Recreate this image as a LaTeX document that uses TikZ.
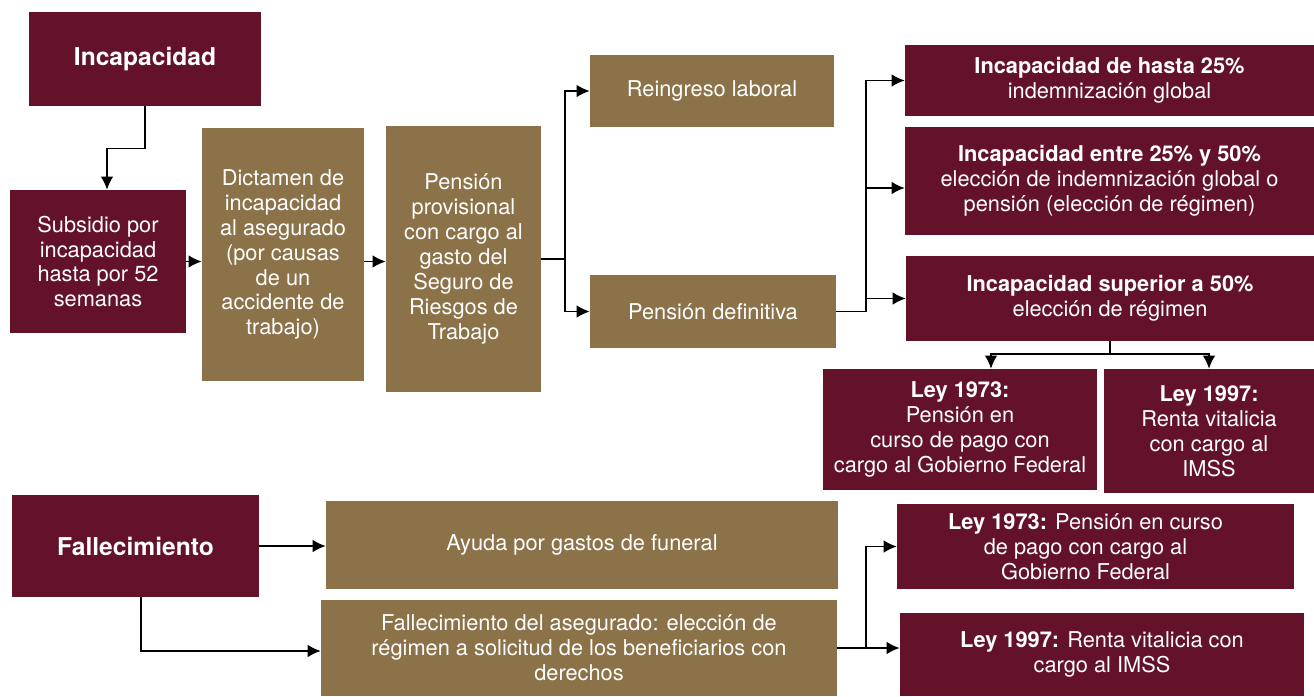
\documentclass[tikz,border=0pt]{standalone}
\usepackage{fontspec}
\setmainfont{TeX Gyre Heros}
\usetikzlibrary{arrows.meta}
\definecolor{vino}{RGB}{99,18,42}
\definecolor{ocre}{RGB}{139,114,73}

\begin{document}
\begin{tikzpicture}[x=0.02cm,y=-0.02cm,
    arr/.style={draw, thick, -{Latex[length=2.6mm,width=2.5mm]}}]
    \tikzstyle{caja}=[rectangle,inner sep=2pt,text=white,align=center,font=\fontsize{12.4}{14.2}\selectfont]
    \tikzstyle{vino caja}=[caja,fill=vino]
    \tikzstyle{ocre caja}=[caja,fill=ocre]
    \tikzstyle{titulo}=[font=\fontsize{14}{16}\selectfont\bfseries]

    \useasboundingbox (0,0) rectangle (1314,696);

    % incapacidad
    \node(inc)[vino caja,titulo,minimum width=4.64cm,minimum height=1.88cm] at (145,59) {Incapacidad};
    \node(sub)[vino caja,minimum width=3.52cm,minimum height=2.86cm] at (98,261.5)
        {Subsidio por\\incapacidad\\hasta por 52\\semanas};
    \node(dict)[ocre caja,minimum width=3.24cm,minimum height=5.06cm] at (283,254.5)
        {Dictamen de\\incapacidad\\al asegurado\\(por causas\\de un\\accidente de\\trabajo)};
    \node(prov)[ocre caja,minimum width=3.1cm,minimum height=5.32cm] at (463.5,259)
        {Pensión\\provisional\\con cargo al\\gasto del\\Seguro de\\Riesgos de\\Trabajo};
    \node(rein)[ocre caja,minimum width=4.88cm,minimum height=1.44cm] at (712,91) {Reingreso laboral};
    \node(pdef)[ocre caja,minimum width=4.92cm,minimum height=1.46cm] at (713,311.5) {Pensión definitiva};
    \node(h25)[vino caja,minimum width=8.18cm,minimum height=1.42cm] at (1109.5,80.5)
        {\textbf{Incapacidad de hasta 25\%}\\indemnización global};
    \node(e25)[vino caja,minimum width=8.18cm,minimum height=2.16cm] at (1109.5,181)
        {\textbf{Incapacidad entre 25\% y 50\%}\\elección de indemnización global o\\pensión (elección de régimen)};
    \node(s50)[vino caja,minimum width=8.16cm,minimum height=1.7cm] at (1110,298.5)
        {\textbf{Incapacidad superior a 50\%}\\elección de régimen};
    \node(l73a)[vino caja,minimum width=5.48cm,minimum height=2.42cm] at (960,429.5)
        {\textbf{Ley 1973:}\\Pensión en\\curso de pago con\\cargo al Gobierno Federal};
    \node(l97a)[vino caja,minimum width=4.2cm,minimum height=2.48cm] at (1209,431)
        {\textbf{Ley 1997:}\\Renta vitalicia\\con cargo al\\IMSS};

    % fallecimiento
    \node(fal)[vino caja,titulo,minimum width=4.94cm,minimum height=2.04cm] at (135.5,546) {Fallecimiento};
    \node(ayu)[ocre caja,minimum width=10.24cm,minimum height=1.76cm] at (582,545) {Ayuda por gastos de funeral};
    \node(fda)[ocre caja,minimum width=10.32cm,minimum height=1.92cm] at (579,648)
        {Fallecimiento del asegurado: elección de\\régimen a solicitud de los beneficiarios con\\derechos};
    \node(l73b)[vino caja,minimum width=7.94cm,minimum height=1.7cm] at (1095.5,546.5)
        {\hspace*{-0.4cm}\textbf{Ley 1973:} Pensión en curso\\\hspace*{-0.4cm}de pago con cargo al\\\hspace*{-0.4cm}Gobierno Federal};
    \node(l97b)[vino caja,minimum width=8.08cm,minimum height=1.66cm] at (1102,654.5)
        {\textbf{Ley 1997:} Renta vitalicia con\\cargo al IMSS};

    % conectores
    \coordinate(j1) at (565,259);
    \coordinate(j2) at (866,311.5);
    \coordinate(j3) at (1110,354);
    \coordinate(j4) at (866,648);

    \draw[arr] (inc.south) -- ++(0,42) -| ([xshift=0.18cm]sub.north);
    \draw[arr] (sub.east) -- (sub.east -| dict.west);
    \draw[arr] ([yshift=-0.14cm]dict.east) -- ([yshift=-0.14cm]dict.east -| prov.west);
    \draw[thick] (prov.east) -- (j1);
    \draw[arr] (j1) |- (rein.west);
    \draw[arr] (j1) |- (pdef.west);
    \draw[thick] (pdef.east) -- (j2);
    \draw[arr] (j2) |- (h25.west);
    \draw[arr] (j2) |- ([yshift=-0.14cm]e25.west);
    \draw[arr] (j2) |- (s50.west);
    \draw[thick] (s50.south) -- (j3);
    \draw[arr] (j3) -| ([xshift=0.62cm]l73a.north);
    \draw[arr] (j3) -| (l97a.north);

    \draw[arr] (fal.east) -- (fal.east -| ayu.west);
    \draw[arr] ([xshift=0.11cm]fal.south) |- ([yshift=-0.06cm]fda.west);
    \draw[thick] (fda.east) -- (j4);
    \draw[arr] (j4) |- (l73b.west);
    \draw[arr] (j4) -- (j4 -| l97b.west);
\end{tikzpicture}
\end{document}
